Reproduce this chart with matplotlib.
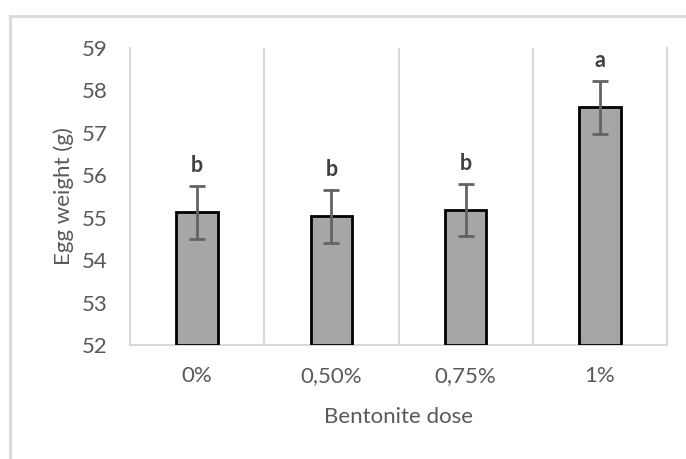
import matplotlib
matplotlib.use("Agg")
import matplotlib.pyplot as plt
from matplotlib.lines import Line2D

categories = ["0%", "0,50%", "0,75%", "1%"]
means = [55.13, 55.03, 55.18, 57.60]
errors = [0.62, 0.62, 0.62, 0.62]
letters = ["b", "b", "b", "a"]
yticks = [52, 53, 54, 55, 56, 57, 58, 59]

plt.rcParams['font.family'] = ['Lato', 'DejaVu Sans']
txt = "#595959"
grid = "#d9d9d9"

fig = plt.figure(figsize=(6.86, 4.59), dpi=100)
ax = fig.add_axes([130/686, 1-345/459, (667-130)/686, (345-48)/459])

x = list(range(len(categories)))
ax.bar(x, [m - 52 for m in means], bottom=52, width=0.31, color="#a6a6a6",
       edgecolor="black", linewidth=2, zorder=3)
ax.errorbar(x, means, yerr=errors, fmt="none", ecolor="#636363", elinewidth=2,
            capsize=6, capthick=2, zorder=4)
for xi, m, e, l in zip(x, means, errors, letters):
    ax.annotate(l, (xi, m + e), xytext=(0, 7), textcoords="offset points",
                ha="center", va="bottom", fontsize=15.5, fontweight="bold", color="#404040")

ax.set_xlim(-0.5, 3.5)
ax.set_ylim(52, 59)
ax.set_yticks(yticks)
ax.set_xticks(x)
ax.set_xticklabels(categories)
for b in [0.5, 1.5, 2.5]:
    ax.axvline(b, color=grid, linewidth=1.5, zorder=1)
for s in ["top"]:
    ax.spines[s].set_visible(False)
for s in ["left", "right", "bottom"]:
    ax.spines[s].set_color(grid)
    ax.spines[s].set_linewidth(1.5)
ax.tick_params(axis="both", length=0, labelsize=16, colors=txt)
ax.tick_params(axis="y", pad=16)
ax.tick_params(axis="x", pad=15)
ax.set_xlabel("Bentonite dose", fontsize=16, color=txt, labelpad=15)
ax.set_ylabel("Egg weight (g)", fontsize=16, color=txt, labelpad=6)

fig.add_artist(Line2D([10/686, 1], [1-16/459, 1-16/459], color=grid, linewidth=2, transform=fig.transFigure))
fig.add_artist(Line2D([10/686, 10/686], [0, 1-16/459], color=grid, linewidth=2, transform=fig.transFigure))

fig.savefig("out.png", dpi=100)
